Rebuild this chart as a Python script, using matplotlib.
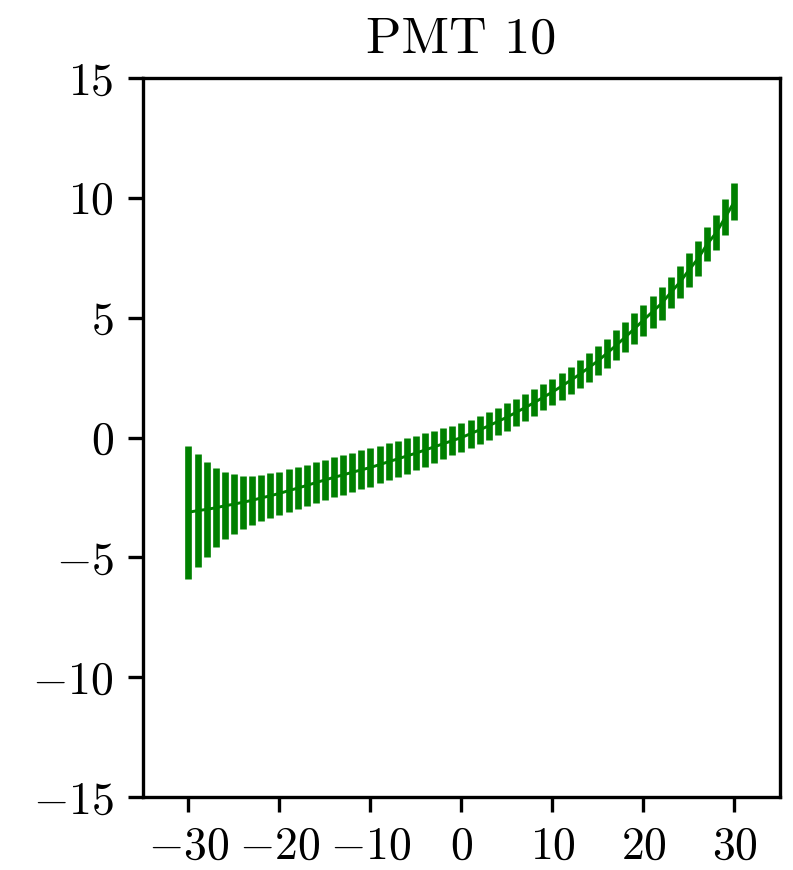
import numpy as np
import matplotlib
matplotlib.use('Agg')
import matplotlib.pyplot as plt

plt.rcParams['font.family'] = 'serif'
plt.rcParams['font.serif'] = ['cmr10']
plt.rcParams['mathtext.fontset'] = 'cm'
plt.rcParams['axes.formatter.use_mathtext'] = True

# scan positions and fitted offsets for PMT 10
x_pos = list(range(-30, 31))
y_mean = [-3.12, -3.05, -3.00, -2.93, -2.85, -2.78, -2.70, -2.62, -2.52, -2.43,
          -2.33, -2.22, -2.11, -2.00, -1.88, -1.77, -1.66, -1.56, -1.45, -1.35,
          -1.25, -1.13, -1.01, -0.89, -0.77, -0.65, -0.52, -0.39, -0.26, -0.13,
          0.00, 0.16, 0.32, 0.49, 0.67, 0.85, 1.05, 1.25, 1.46, 1.68,
          1.90, 2.14, 2.39, 2.64, 2.92, 3.20, 3.52, 3.85, 4.19, 4.54,
          4.90, 5.25, 5.60, 6.05, 6.48, 6.99, 7.47, 8.07, 8.55, 9.20,
          9.85]
y_err = [2.78, 2.35, 1.97, 1.65, 1.40, 1.25, 1.10, 1.01, 0.96, 0.93,
         0.91, 0.89, 0.88, 0.86, 0.85, 0.83, 0.83, 0.82, 0.81, 0.81,
         0.80, 0.78, 0.77, 0.75, 0.74, 0.72, 0.70, 0.67, 0.65, 0.62,
         0.60, 0.59, 0.59, 0.58, 0.58, 0.57, 0.57, 0.56, 0.56, 0.55,
         0.55, 0.56, 0.57, 0.59, 0.59, 0.60, 0.61, 0.62, 0.63, 0.64,
         0.65, 0.67, 0.70, 0.66, 0.67, 0.70, 0.71, 0.72, 0.73, 0.74,
         0.77]

fig = plt.figure(figsize=(793 / 300, 870 / 300), dpi=300)
ax = fig.add_axes([0.1803, 0.0839, 0.9836 - 0.1803, 0.9103 - 0.0839])

ax.errorbar(x_pos, y_mean, yerr=y_err, color='g', linewidth=0.7,
            elinewidth=1.6)

ax.set_xlim(-35, 35)
ax.set_ylim(-15, 15)
ax.set_xticks([-30, -20, -10, 0, 10, 20, 30])
ax.set_yticks([-15, -10, -5, 0, 5, 10, 15])
ax.tick_params(labelsize=11)
ax.set_title('PMT 10', fontsize=12.5)

fig.savefig('out.png', dpi=300)
